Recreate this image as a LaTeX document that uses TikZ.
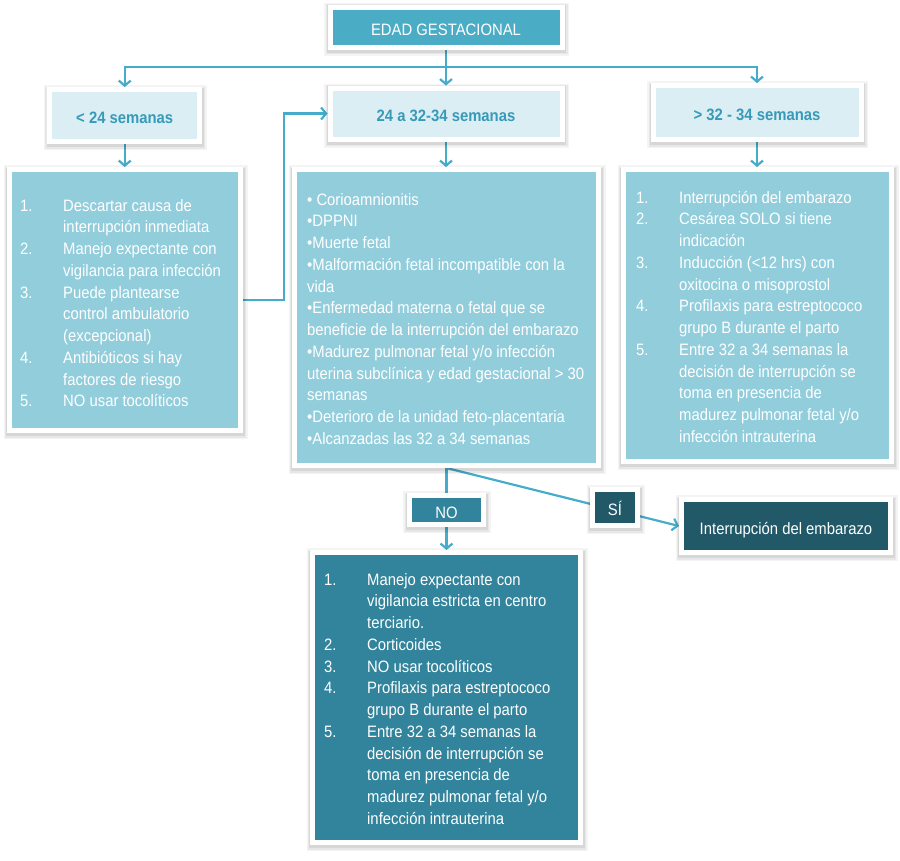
\documentclass[tikz,border=0pt]{standalone}
\usepackage{fontspec}
\setmainfont[FakeStretch=0.9]{Liberation Sans}
\usetikzlibrary{arrows.meta}
\definecolor{cTitle}{HTML}{4BACC6}
\definecolor{cLight}{HTML}{DBEEF4}
\definecolor{cMid}{HTML}{92CDDC}
\definecolor{cDeep}{HTML}{31849B}
\definecolor{cDark}{HTML}{215968}
\definecolor{cBold}{HTML}{379AB8}
\definecolor{cLine}{HTML}{45ADCB}
\pgfdeclarelayer{bg}
\pgfsetlayers{bg,main}
\newcommand\fsz{\fontsize{16.5}{21.75}\selectfont}
\newcommand\nm[1]{\makebox[43pt][l]{#1}}
\newcommand\ind{\hspace*{43pt}}
\begin{document}
\begin{tikzpicture}[x=1pt,y=-1pt,
  box/.style={draw=white, line width=5pt, inner sep=0pt,
    preaction={fill=none, draw=black, draw opacity=0.045, line width=13pt, transform canvas={xshift=0.5pt,yshift=-2pt}},
    preaction={fill=none, draw=black, draw opacity=0.055, line width=10pt, transform canvas={xshift=0.5pt,yshift=-2pt}},
    preaction={fill=none, draw=black, draw opacity=0.07, line width=7.5pt, transform canvas={xshift=0.5pt,yshift=-2pt}}},
  lab/.style={box, text height=16.5pt, text depth=0pt, font=\fsz},
  txt/.style={inner sep=0pt, anchor=base west, text=white, font=\fsz},
  arr/.style={draw=cLine, line width=2.2pt, -{Straight Barb[length=5pt,width=12pt]}}
]
\useasboundingbox (0,0) rectangle (900,860);

% top level
\node[lab, fill=cTitle, text=white, minimum width=232pt, minimum height=40pt] (title) at (446,27) {EDAD GESTACIONAL};
\node[lab, fill=cLight, text=cBold, font=\fsz\bfseries, minimum width=150pt, minimum height=52pt] (lt24) at (124.75,115.5) {< 24 semanas};
\node[lab, fill=cLight, text=cBold, font=\fsz\bfseries, minimum width=232pt, minimum height=51pt] (mid24) at (446,113.5) {24 a 32-34 semanas};
\node[lab, fill=cLight, text=cBold, font=\fsz\bfseries, minimum width=208pt, minimum height=54pt] (gt32) at (757,112.5) {> 32 - 34 semanas};

% list boxes
\node[box, fill=cMid, minimum width=231pt, minimum height=261pt] (lbox) at (125,300) {};
\node[box, fill=cMid, minimum width=304pt, minimum height=296pt] (mbox) at (446.5,317.5) {};
\node[box, fill=cMid, minimum width=268pt, minimum height=292pt] (rbox) at (757.5,315.5) {};
\node[box, fill=cDeep, minimum width=268pt, minimum height=290pt] (bbox) at (446.5,697.5) {};

\node[txt] (ltxt) at (20,211) {\parbox[t]{225pt}{%
\nm{1.}Descartar causa de\\
\ind interrupción inmediata\\
\nm{2.}Manejo expectante con\\
\ind vigilancia para infección\\
\nm{3.}Puede plantearse\\
\ind control ambulatorio\\
\ind (excepcional)\\
\nm{4.}Antibióticos si hay\\
\ind factores de riesgo\\
\nm{5.}NO usar tocolíticos}};

\node[txt] (mtxt) at (307,205) {\parbox[t]{300pt}{%
• Corioamnionitis\\
•DPPNI\\
•Muerte fetal\\
•Malformación fetal incompatible con la\\
vida\\
•Enfermedad materna o fetal que se\\
beneficie de la interrupción del embarazo\\
•Madurez pulmonar fetal y/o infección\\
uterina subclínica y edad gestacional > 30\\
semanas\\
•Deterioro de la unidad feto-placentaria\\
•Alcanzadas las 32 a 34 semanas}};

\node[txt] (rtxt) at (636,203) {\parbox[t]{260pt}{%
\nm{1.}Interrupción del embarazo\\
\nm{2.}Cesárea SOLO si tiene\\
\ind indicación\\
\nm{3.}Inducción (<12 hrs) con\\
\ind oxitocina o misoprostol\\
\nm{4.}Profilaxis para estreptococo\\
\ind grupo B durante el parto\\
\nm{5.}Entre 32 a 34 semanas la\\
\ind decisión de interrupción se\\
\ind toma en presencia de\\
\ind madurez pulmonar fetal y/o\\
\ind infección intrauterina}};

\node[txt] (btxt) at (324,585) {\parbox[t]{260pt}{%
\nm{1.}Manejo expectante con\\
\ind vigilancia estricta en centro\\
\ind terciario.\\
\nm{2.}Corticoides\\
\nm{3.}NO usar tocolíticos\\
\nm{4.}Profilaxis para estreptococo\\
\ind grupo B durante el parto\\
\nm{5.}Entre 32 a 34 semanas la\\
\ind decisión de interrupción se\\
\ind toma en presencia de\\
\ind madurez pulmonar fetal y/o\\
\ind infección intrauterina}};

% decision labels and result
\node[lab, fill=cDeep, text=white, minimum width=74.5pt, minimum height=29pt] (no) at (446.5,510) {NO};
\node[lab, fill=cDark, text=white, minimum width=45pt, minimum height=36pt] (si) at (615,507.5) {SÍ};
\node[lab, fill=cDark, text=white, minimum width=209pt, minimum height=53pt] (intr) at (786,526) {Interrupción del embarazo};

% connectors
\begin{pgfonlayer}{bg}
\coordinate (j) at (446,67);
\draw[arr] (title.south) -- (mid24.north);
\draw[arr] (j) -| (lt24.north);
\draw[arr] (j) -| (gt32.north);
\draw[arr] (lt24.south) -- (lt24.south |- lbox.north);
\draw[arr] (mid24.south) -- (mid24.south |- mbox.north);
\draw[arr] (gt32.south) -- (gt32.south |- rbox.north);
\draw[arr] (lbox.east) -- ++(41,0) |- (mid24.west);
\draw[arr] (mbox.south) -- (mbox.south |- bbox.north);
\draw[arr] (mbox.south) -- (intr.west);
\end{pgfonlayer}
\end{tikzpicture}
\end{document}
